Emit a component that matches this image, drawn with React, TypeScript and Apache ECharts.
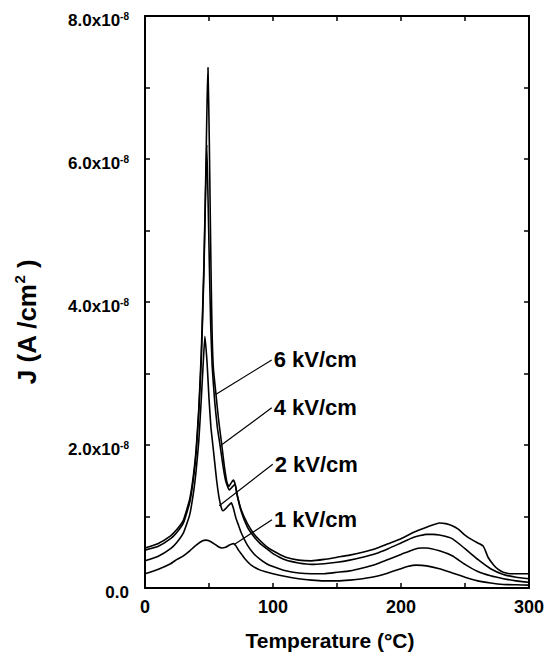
import React, { useEffect, useRef } from "react";
import * as echarts from "echarts";

// Temperature (°C) and current density J (in units of 1e-8 A/cm²)
const t6 = [0, 10, 20, 25, 30, 35, 38, 40, 42, 44, 46, 47.5, 48.5, 49.2, 50.2, 51, 51.7, 52.5, 53.5, 55.5, 57.5, 60, 62, 64, 65.5, 67, 69, 70.5, 72, 75, 80, 85, 90, 95, 100, 110, 120, 130, 140, 150, 160, 170, 180, 190, 200, 210, 220, 230, 235, 240, 245, 250, 255, 260, 264, 266, 268, 272, 276, 280, 285, 290, 300];
const j6 = [0.56, 0.62, 0.73, 0.82, 0.95, 1.25, 1.6, 1.95, 2.5, 3.3, 4.5, 5.8, 6.8, 7.28, 6.3, 5.2, 4.3, 3.5, 3.05, 2.7, 2.35, 2.0, 1.7, 1.48, 1.42, 1.46, 1.51, 1.45, 1.3, 1.1, 0.9, 0.76, 0.66, 0.58, 0.52, 0.43, 0.39, 0.38, 0.4, 0.43, 0.46, 0.5, 0.55, 0.62, 0.69, 0.78, 0.85, 0.91, 0.9, 0.87, 0.82, 0.74, 0.68, 0.63, 0.59, 0.52, 0.43, 0.33, 0.26, 0.22, 0.2, 0.2, 0.2];

const t4 = [0, 10, 20, 25, 30, 35, 38, 40, 42, 44, 46, 47.3, 48.3, 49.3, 50.3, 51.3, 52.5, 54.5, 56.5, 58.6, 61, 63, 65.9, 68, 70.3, 72, 75, 80, 85, 90, 95, 100, 110, 120, 130, 140, 150, 160, 170, 180, 190, 200, 210, 220, 225, 230, 240, 250, 260, 270, 280, 290, 300];
const j4 = [0.53, 0.58, 0.69, 0.78, 0.91, 1.2, 1.55, 1.9, 2.45, 3.2, 4.4, 5.5, 6.2, 5.4, 4.5, 3.7, 3.1, 2.6, 2.25, 2.0, 1.7, 1.5, 1.37, 1.41, 1.45, 1.3, 1.08, 0.85, 0.72, 0.62, 0.55, 0.48, 0.39, 0.35, 0.33, 0.34, 0.36, 0.39, 0.43, 0.48, 0.55, 0.63, 0.71, 0.75, 0.75, 0.74, 0.69, 0.55, 0.4, 0.27, 0.19, 0.15, 0.13];

const t2 = [0, 10, 20, 25, 30, 35, 38, 40, 42, 44, 45.5, 46.8, 48.5, 50, 51.5, 53, 54.5, 56, 58, 60, 61, 63, 65, 67.5, 69, 71, 73, 75, 80, 85, 90, 95, 100, 110, 120, 130, 140, 150, 160, 170, 180, 190, 200, 210, 216, 220, 230, 240, 250, 260, 270, 280, 290, 300];
const j2 = [0.38, 0.44, 0.55, 0.64, 0.77, 1.03, 1.35, 1.65, 2.05, 2.65, 3.15, 3.52, 3.15, 2.65, 2.25, 2.0, 1.75, 1.5, 1.25, 1.1, 1.08, 1.11, 1.15, 1.19, 1.12, 0.98, 0.88, 0.78, 0.6, 0.48, 0.4, 0.34, 0.3, 0.24, 0.21, 0.2, 0.2, 0.22, 0.24, 0.28, 0.33, 0.4, 0.47, 0.54, 0.56, 0.56, 0.52, 0.45, 0.33, 0.23, 0.17, 0.13, 0.1, 0.08];

const t1 = [0, 10, 20, 25, 30, 35, 40, 45, 47.7, 50, 54.7, 57, 60, 63, 66, 69, 71, 73, 75.5, 78, 83, 90, 100, 110, 120, 130, 140, 150, 160, 170, 180, 190, 200, 205, 212, 220, 230, 240, 250, 260, 270, 280, 290, 300];
const j1 = [0.2, 0.26, 0.34, 0.4, 0.45, 0.52, 0.6, 0.66, 0.67, 0.66, 0.61, 0.58, 0.56, 0.57, 0.6, 0.62, 0.59, 0.53, 0.47, 0.41, 0.32, 0.25, 0.2, 0.16, 0.13, 0.11, 0.1, 0.1, 0.11, 0.13, 0.16, 0.21, 0.27, 0.3, 0.32, 0.31, 0.27, 0.21, 0.15, 0.1, 0.07, 0.05, 0.045, 0.04];

const seriesNames = ["6 kV/cm", "4 kV/cm", "2 kV/cm", "1 kV/cm"];
const seriesT = [t6, t4, t2, t1];
const seriesJ = [j6, j4, j2, j1];

// leader lines: [curve point], [label point] in data coordinates (T, J)
const leaderFrom = [[55.5, 2.71], [58.6, 1.985], [58.0, 1.15], [70.3, 0.616]];
const leaderTo = [[99, 3.19], [99, 2.52], [99.8, 1.73], [99.2, 0.953]];

const xTicks = { min: 0, max: 300, step: 50, labelStep: 100 };
const yTicks = { min: 0, max: 8, step: 1, labelStep: 2 };

const FONT = "'Liberation Sans', Arial, Helvetica, sans-serif";

export default function App() {
  const ref = useRef<HTMLDivElement>(null);
  useEffect(() => {
    if (!ref.current) return;
    const chart = echarts.init(ref.current, null, { renderer: "svg" });
    const axisCommon = {
      type: "value",
      axisLine: { show: true, onZero: false, lineStyle: { color: "#000", width: 2 } },
      axisTick: { show: true, inside: true, length: 5, lineStyle: { color: "#000", width: 1.5 } },
      splitLine: { show: false },
    };
    const series: any[] = seriesNames.map((name, i) => ({
      name,
      type: "line",
      data: seriesT[i].map((t, k) => [t, seriesJ[i][k]]),
      showSymbol: false,
      symbol: "none",
      smooth: 0.15,
      lineStyle: { color: "#000", width: 1.6 },
      xAxisIndex: 0,
      yAxisIndex: 0,
      markLine: {
        silent: true,
        symbol: "none",
        animation: false,
        label: { show: false },
        lineStyle: { color: "#000", width: 1.2, type: "solid" },
        data: [[{ coord: leaderFrom[i] }, { coord: leaderTo[i] }]],
      },
      markPoint: {
        symbol: "circle",
        symbolSize: 0,
        animation: false,
        label: {
          show: true,
          position: "right",
          distance: 2,
          formatter: name,
          color: "#000",
          fontSize: 22,
          fontWeight: "bold",
          fontFamily: FONT,
        },
        data: [{ coord: leaderTo[i] }],
      },
    }));
    chart.setOption({
      animation: false,
      backgroundColor: "#fff",
      grid: { left: 145, right: 18, top: 16, bottom: 65, containLabel: false },
      xAxis: [
        {
          ...axisCommon,
          position: "bottom",
          min: xTicks.min,
          max: xTicks.max,
          interval: xTicks.step,
          axisLabel: {
            color: "#000",
            fontSize: 18,
            fontWeight: "bold",
            fontFamily: FONT,
            margin: 10,
            showMaxLabel: true,
            formatter: (v: number) => (v % xTicks.labelStep === 0 ? String(v) : ""),
          },
          name: "Temperature (°C)",
          nameLocation: "middle",
          nameGap: 42,
          nameTextStyle: { color: "#000", fontSize: 21, fontWeight: "bold", fontFamily: FONT, padding: [0, 14, 0, 0] },
        },
        {
          ...axisCommon,
          position: "top",
          min: xTicks.min,
          max: xTicks.max,
          interval: xTicks.step,
          axisLabel: { show: false },
        },
      ],
      yAxis: [
        {
          ...axisCommon,
          position: "left",
          min: yTicks.min,
          max: yTicks.max,
          interval: yTicks.step,
          axisLabel: {
            margin: 16,
            color: "#000",
            fontFamily: FONT,
            padding: [8, 0, 0, 0],
            formatter: (v: number) =>
              v % yTicks.labelStep !== 0 ? "" : v === 0 ? "{z|0.0}" : `{a|${v.toFixed(1)}x10}{b|-8}`,
            rich: {
              a: { fontSize: 17, fontWeight: "bold", fontFamily: FONT, color: "#000" },
              z: { fontSize: 17, fontWeight: "bold", fontFamily: FONT, color: "#000" },
              b: { fontSize: 10, fontWeight: "bold", fontFamily: FONT, color: "#000", verticalAlign: "top", padding: [0, 0, 8, 0] },
            },
          },
          name: "{a|J (A /cm}{b|2}{a| )}",
          nameLocation: "middle",
          nameRotate: 90,
          nameGap: 104,
          nameTextStyle: {
            color: "#000",
            padding: [0, 40, 0, 0],
            rich: {
              a: { fontSize: 26, fontWeight: "bold", fontFamily: FONT, color: "#000" },
              b: { fontSize: 15, fontWeight: "bold", fontFamily: FONT, color: "#000", padding: [0, 0, 14, 0] },
            },
          },
        },
        {
          ...axisCommon,
          position: "right",
          min: yTicks.min,
          max: yTicks.max,
          interval: yTicks.step,
          axisLabel: { show: false },
        },
      ],
      series,
    });
    return () => chart.dispose();
  }, []);
  return <div ref={ref} style={{ width: 547, height: 656, position: "absolute", left: 0, top: 0 }} />;
}
